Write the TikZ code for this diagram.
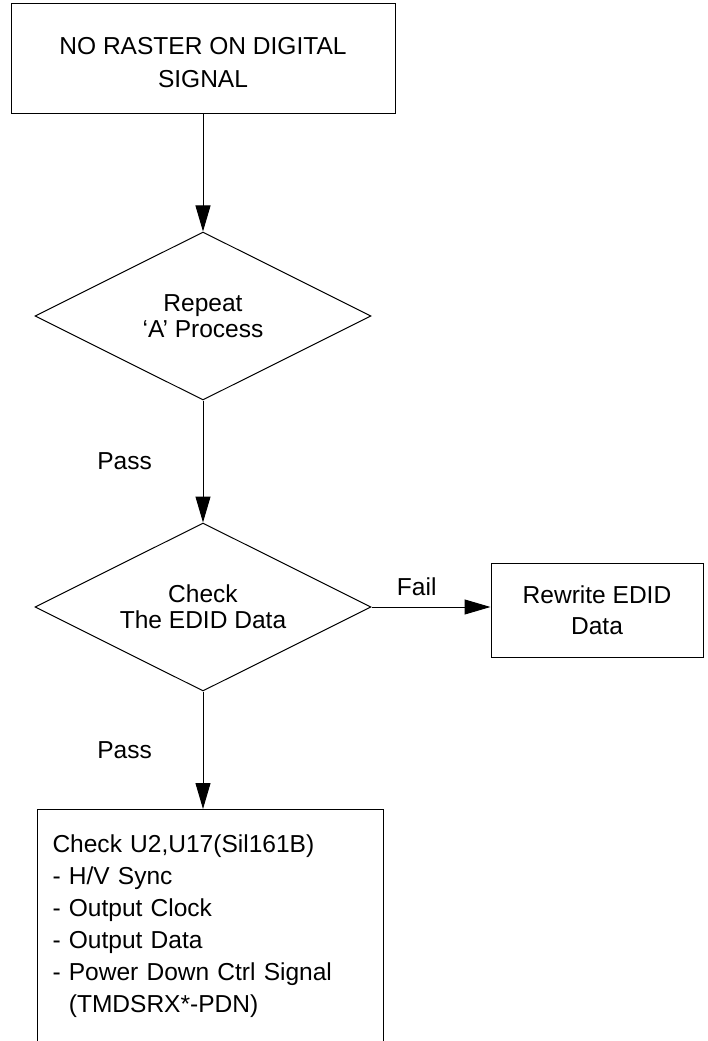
\documentclass[tikz,border=0pt]{standalone}
\usepackage{fontspec}
\setmainfont{Liberation Sans}
\usetikzlibrary{shapes.geometric}
\usetikzlibrary{arrows.meta}

\begin{document}
\begin{tikzpicture}[x=0.75pt,y=0.75pt,yscale=-1,xscale=1,
	box/.style={draw,line width=0.75pt,rectangle,inner sep=0pt,align=center,font=\fontsize{18.4}{24.75}\selectfont},
	decision/.style={draw,line width=0.75pt,diamond,aspect=2,inner sep=0pt,minimum width=252pt,minimum height=126pt,align=center,font=\fontsize{18.4}{19.5}\selectfont},
	flow/.style={line width=0.75pt,-{Triangle[length=19.5pt,width=11.25pt]}},
	lbl/.style={inner sep=0pt,font=\fontsize{18.4}{22}\selectfont}]
	%set diagram left start at 0, and has height of 1041
	\useasboundingbox (0,0) rectangle (707,1041);
	\clip (0,0) rectangle (707,1041);

	%Shape: Rectangle [id:start]
	\node[box,minimum width=288pt,minimum height=82.5pt,text height=43pt] (start) at (203,59) {NO RASTER ON DIGITAL\\SIGNAL};
	%Shape: Diamond [id:repeat]
	\node[decision] (rep) at (203,316) {Repeat\\`A' Process};
	%Shape: Diamond [id:edid]
	\node[decision] (edid) at (203,607) {Check\\The EDID Data};
	%Shape: Rectangle [id:rewrite]
	\node[box,minimum width=159pt,minimum height=70.5pt,font=\fontsize{18.4}{23.25}\selectfont] (rewrite) at (597,610) {Rewrite EDID\\Data};
	%Shape: Rectangle [id:check] (runs past the bottom edge)
	\node[box,anchor=north west,align=left,text width=237pt,inner xsep=11.25pt,text height=32pt,text depth=200pt,font=\fontsize{18.4}{24}\selectfont] (chk) at (37,809)
		{Check U2,U17(Sil161B)\\- H/V Sync\\- Output Clock\\- Output Data\\- Power Down Ctrl Signal\\\phantom{- }(TMDSRX*-PDN)};

	% Connectors
	\draw[flow] (start) -- (rep);
	\draw[flow] (rep) -- node[lbl,midway,left=38pt] {Pass} (edid);
	\draw[flow] (edid.east) -- node[lbl,pos=0.38,above=8pt] {Fail} (edid.east -| rewrite.west);
	\draw[flow] (edid.south) -- node[lbl,midway,left=38pt] {Pass} (edid.south |- chk.north);

\end{tikzpicture}
\end{document}
